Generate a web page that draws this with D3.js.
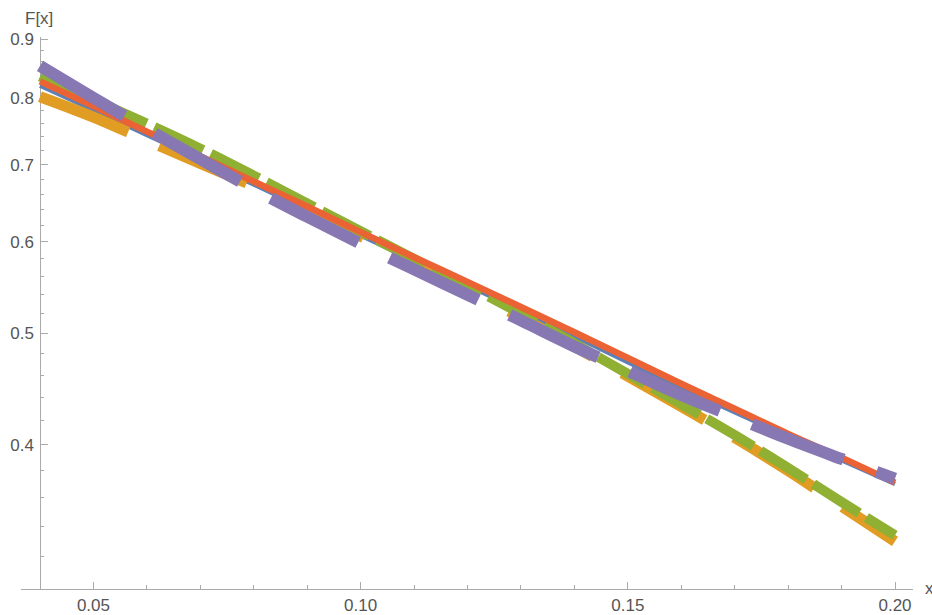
<!DOCTYPE html>
<html lang="en">
<head>
<meta charset="utf-8">
<title>F[x]</title>
<style>
body { margin: 0; background: #fff; }
.axis text { font: 17px "Liberation Sans", Arial, sans-serif; fill: #555; }
.axis line, .axis path { stroke: #aaa; shape-rendering: crispEdges; }
</style>
</head>
<body>
<div id="chart"></div>
<script src="https://d3js.org/d3.v7.min.js"></script>
<script>
// x positions of the samples
var xs = [0.04, 0.05, 0.06, 0.07, 0.08, 0.09, 0.10, 0.11, 0.12, 0.13, 0.14, 0.15, 0.16, 0.17, 0.18, 0.19, 0.20];

// F[x], one array per curve
var blue   = [0.820, 0.781, 0.743, 0.707, 0.673, 0.640, 0.608, 0.578, 0.550, 0.523, 0.497, 0.472, 0.449, 0.427, 0.407, 0.388, 0.370];
var orange = [0.802, 0.770, 0.735, 0.702, 0.671, 0.640, 0.607, 0.577, 0.546, 0.516, 0.487, 0.459, 0.432, 0.406, 0.380, 0.354, 0.330];
var green  = [0.835, 0.797, 0.760, 0.723, 0.685, 0.648, 0.613, 0.580, 0.550, 0.520, 0.490, 0.461, 0.434, 0.408, 0.382, 0.357, 0.334];
var red    = [0.827, 0.787, 0.748, 0.712, 0.677, 0.644, 0.612, 0.582, 0.554, 0.527, 0.501, 0.476, 0.452, 0.430, 0.409, 0.390, 0.371];
var purple = [0.853, 0.800, 0.752, 0.708, 0.667, 0.631, 0.598, 0.568, 0.540, 0.513, 0.487, 0.464, 0.442, 0.423, 0.405, 0.389, 0.374];

// ticks
var xMajor = [0.05, 0.10, 0.15, 0.20];
var xMinor = [0.06, 0.07, 0.08, 0.09, 0.11, 0.12, 0.13, 0.14, 0.16, 0.17, 0.18, 0.19];
var yMajor = [0.4, 0.5, 0.6, 0.7, 0.8, 0.9];
var yMinor = [0.32, 0.34, 0.36, 0.38, 0.42, 0.44, 0.46, 0.48, 0.52, 0.54, 0.56, 0.58,
              0.62, 0.64, 0.66, 0.68, 0.72, 0.74, 0.76, 0.78, 0.82, 0.84, 0.86, 0.88];

var width = 932, height = 615;

var svg = d3.select("#chart").append("svg")
    .attr("width", width)
    .attr("height", height);

var x = d3.scaleLinear().domain([0.04, 0.20]).range([40, 895]);
var y = d3.scaleLog().domain([0.3, 0.9]).range([589, 39]);

// x axis
var gx = svg.append("g").attr("class", "axis")
    .attr("transform", "translate(0,589)");
gx.append("line").attr("x1", 21).attr("x2", 913);
gx.selectAll(".minor").data(xMinor).enter().append("line")
    .attr("x1", d => x(d)).attr("x2", d => x(d))
    .attr("y1", 0).attr("y2", -4);
gx.selectAll(".major").data(xMajor).enter().append("line")
    .attr("x1", d => x(d)).attr("x2", d => x(d))
    .attr("y1", 0).attr("y2", -7);
gx.selectAll("text").data(xMajor).enter().append("text")
    .attr("x", d => x(d)).attr("y", 22)
    .attr("text-anchor", "middle")
    .text(d3.format(".2f"));
gx.append("text").attr("x", 925).attr("y", 5).text("x");

// y axis
var gy = svg.append("g").attr("class", "axis")
    .attr("transform", "translate(40,0)");
gy.append("line").attr("y1", 37).attr("y2", 589);
gy.selectAll(".minor").data(yMinor).enter().append("line")
    .attr("y1", d => y(d)).attr("y2", d => y(d))
    .attr("x1", 0).attr("x2", 4);
gy.selectAll(".major").data(yMajor).enter().append("line")
    .attr("y1", d => y(d)).attr("y2", d => y(d))
    .attr("x1", 0).attr("x2", 8);
gy.selectAll("text").data(yMajor).enter().append("text")
    .attr("x", -6).attr("y", d => y(d) + 6)
    .attr("text-anchor", "end")
    .text(d3.format(".1f"));
gy.append("text").attr("x", -15).attr("y", 24).text("F[x]");

// curves, in Mathematica's drawing order
var series = [
  { vals: blue,   color: "#5E81B5", w: 4.5, dash: null },
  { vals: orange, color: "#E19C24", w: 11,  dash: "95,34" },
  { vals: green,  color: "#8FB032", w: 10,  dash: "54,8.5" },
  { vals: red,    color: "#EB6235", w: 6.5, dash: null },
  { vals: purple, color: "#8778B3", w: 12,  dash: "98,35" }
];

var line = d3.line()
    .x(function(d, i) { return x(xs[i]); })
    .y(function(d) { return y(d); })
    .curve(d3.curveMonotoneX);

svg.selectAll(".curve").data(series).enter().append("path")
    .attr("class", "curve")
    .attr("d", d => line(d.vals))
    .attr("fill", "none")
    .attr("stroke", d => d.color)
    .attr("stroke-width", d => d.w)
    .attr("stroke-dasharray", d => d.dash)
    .attr("stroke-linecap", "butt");
</script>
</body>
</html>
